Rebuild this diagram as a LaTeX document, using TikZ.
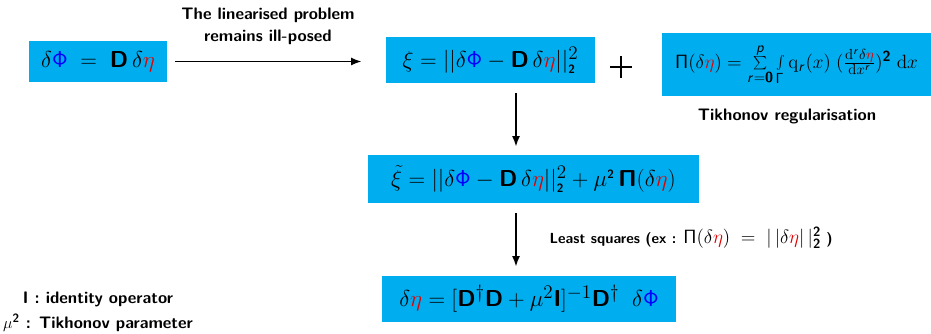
\documentclass[tikz,border=0pt]{standalone}
\usetikzlibrary{arrows.meta}
\DeclareMathAlphabet\mathsfb{OT1}{cmss}{bx}{n}
\DeclareMathAlphabet\mathsfi{OT1}{cmss}{m}{sl}
\definecolor{boxcyan}{RGB}{0,174,239}
\definecolor{phiblue}{RGB}{0,0,255}
\definecolor{etared}{RGB}{225,0,0}
\newcommand{\dphi}{\delta{\color{phiblue}\mathsf{\Phi}}}
\newcommand{\deta}{\delta{\color{etared}\eta}}
\newcommand{\btwo}{{\scriptscriptstyle\mathsfb{2}}}
\begin{document}
\begin{tikzpicture}[
		x=0.75pt, y=-0.75pt,
		formbox/.style={
			fill=boxcyan,
			inner sep=0pt,
			align=center,
			font=\fontsize{19}{23}\selectfont
		},
		lbl/.style={
			align=center,
			font=\sffamily\bfseries\fontsize{12.5}{16.5}\selectfont
		},
		arr/.style={draw, line width=1.3pt, -{Latex[length=8pt,width=6pt]}}
		]
		\useasboundingbox (0,0) rectangle (931,334);
		
		% Linearised problem
		\node[formbox, minimum width=103.5pt, minimum height=30.75pt] (lin) at (98,61.5)
		{$\dphi \;=\; \mathsfb{D}\,\deta$};
		
		% Least squares misfit
		\node[formbox, minimum width=156.75pt, minimum height=34.5pt] (xi) at (490.5,60)
		{$\xi = ||\dphi - \mathsfb{D}\,\deta||^2_{\btwo}$};
		
		% Penalty term
		\node[formbox, minimum width=201.75pt, minimum height=47.25pt,
			font=\fontsize{15.5}{18}\selectfont] (pen) at (796.5,64.5)
		{$\mathsf{\Pi}(\deta) = \sum\limits_{\mathsfi{r}=\mathsfb{0}}^{\mathsfi{p}}
			\int\limits_{\mathsf{\Gamma}} \mathrm{q}_{\mathsfi{r}}(x)\;
			(\frac{\mathrm{d}^{\mathsfi{r}}\deta}{\mathrm{d}x^{\mathsfi{r}}})^{\mathsfb{2}}\;\mathrm{d}x$};
		
		% Regularised functional
		\node[formbox, minimum width=248.25pt, minimum height=36pt] (xit) at (533.5,179)
		{$\tilde{\xi} = ||\dphi - \mathsfb{D}\,\deta||^2_{\btwo} + \mu^{\btwo}\,\mathsfb{\Pi}(\deta)$};
		
		% Solution
		\node[formbox, minimum width=220.5pt, minimum height=34.5pt] (eta) at (529,299)
		{$\deta = [\mathsfb{D}^{\dagger}\mathsfb{D} + \mu^2\mathsfb{I}]^{-1}\mathsfb{D}^{\dagger}\;\;\dphi$};
		
		% Plus sign
		\coordinate (plus) at (621,67);
		\draw[line width=1.6pt] (plus) ++(-11,0) -- ++(22,0);
		\draw[line width=1.6pt] (plus) ++(0,-11) -- ++(0,22);
		
		% Labels
		\node[lbl] (ill) at (268,26) {The linearised problem\\remains ill-posed};
		\node[lbl] (tik) at (787,116) {Tikhonov regularisation};
		\node[lbl, anchor=west, font=\sffamily\bfseries\fontsize{11}{13}\selectfont] (ls) at (545,238)
		{Least squares (ex : {\fontsize{14}{16}\selectfont$\mathsf{\Pi}(\deta) \;=\; |\,|\deta|\,|^{\mathsfb{2}}_{\mathsfb{2}}$} )};
		\node[lbl, font=\sffamily\bfseries\fontsize{12.5}{18.75}\selectfont] (leg) at (98,312)
		{I : identity operator\\$\mu^{\mathsfb{2}}$ : Tikhonov parameter};
		
		% Arrows
		\coordinate (col) at (516,0);
		\draw[arr, shorten <=6pt, shorten >=18pt] (lin.east) -- (lin.east -| xi.west);
		\draw[arr, shorten <=7.5pt, shorten >=6pt] (xi.south -| col) -- (xit.north -| col);
		\draw[arr, shorten <=7.5pt, shorten >=6.75pt] (xit.south -| col) -- (eta.north -| col);
		
	\end{tikzpicture}
\end{document}
